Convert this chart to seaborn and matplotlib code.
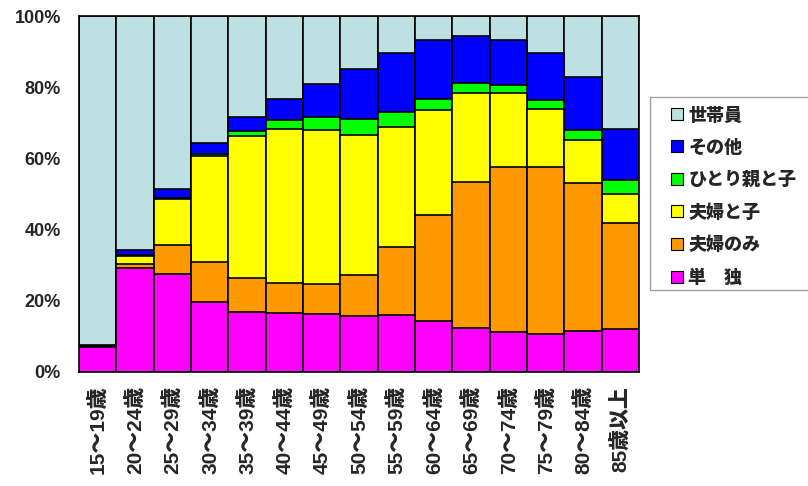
import numpy as np
import pandas as pd
import seaborn as sns
from matplotlib import pyplot as plt
from matplotlib.patches import Patch, Rectangle

ages = ["15～19歳", "20～24歳", "25～29歳", "30～34歳", "35～39歳", "40～44歳",
        "45～49歳", "50～54歳", "55～59歳", "60～64歳", "65～69歳", "70～74歳",
        "75～79歳", "80～84歳", "85歳以上"]

# percentages per household type, bottom to top
tandoku = [7.0, 29.1, 27.5, 19.7, 16.9, 16.5, 16.2, 15.7, 16.0, 14.3, 12.3, 11.1, 10.7, 11.4, 12.2]
fufu_nomi = [0.2, 1.1, 8.2, 11.2, 9.6, 8.4, 8.5, 11.6, 19.0, 29.9, 41.1, 46.4, 46.8, 41.8, 29.6]
fufu_ko = [0.1, 2.5, 12.8, 29.7, 39.8, 43.4, 43.2, 39.3, 33.9, 29.3, 25.1, 20.9, 16.4, 12.0, 8.2]
hitorioya = [0.0, 0.2, 0.3, 0.7, 1.5, 2.5, 3.6, 4.4, 4.0, 3.2, 2.6, 2.3, 2.5, 2.9, 4.0]
sonota = [0.3, 1.3, 2.6, 3.0, 3.9, 6.0, 9.5, 14.0, 16.8, 16.5, 13.4, 12.5, 13.1, 14.8, 14.3]

series = ["単　独", "夫婦のみ", "夫婦と子", "ひとり親と子", "その他"]
colors = ["#FF00FF", "#FF9900", "#FFFF00", "#00FF00", "#0000FF", "#BDE0E3"]

df = pd.DataFrame({"年齢": ages, "単　独": tandoku, "夫婦のみ": fufu_nomi,
                   "夫婦と子": fufu_ko, "ひとり親と子": hitorioya, "その他": sonota})
df["世帯員"] = 100 - df[series].sum(axis=1)
order = series + ["世帯員"]
cum = df[order].cumsum(axis=1)

sns.set_style("white")
plt.rcParams["font.family"] = ["Liberation Sans", "Noto Sans CJK JP", "DejaVu Sans"]
plt.rcParams["font.weight"] = "bold"

fig = plt.figure(figsize=(8.08, 4.86), dpi=100)
ax = fig.add_axes([79 / 808, 1 - 372 / 486, 560 / 808, 356 / 486])

# draw from the top layer down so each lower layer covers the one above
for name, col in reversed(list(zip(order, colors))):
    sns.barplot(x=df["年齢"], y=cum[name], color=col, width=1.0,
                edgecolor="black", linewidth=1.2, saturation=1, ax=ax)

ax.set_xlim(-0.5, len(ages) - 0.5)
ax.set_ylim(0, 100)
ax.set_yticks(range(0, 101, 20))
ax.set_yticklabels([f"{v}%" for v in range(0, 101, 20)], fontsize=13, fontweight="heavy")
ax.set_xticks(range(len(ages)))
ax.set_xticklabels(ages, rotation=90, fontsize=15, fontweight="heavy")
ax.set_xlabel("")
ax.set_ylabel("")
ax.tick_params(axis="y", direction="in", length=5, color="gray", pad=13)
ax.tick_params(axis="x", length=0, pad=10)
for s in ax.spines.values():
    s.set_color("black")
    s.set_linewidth(1.2)

# legend box
fig.patches.append(Rectangle((650 / 808, 1 - 290 / 486), 0.3, 193 / 486,
                             transform=fig.transFigure, facecolor="white",
                             edgecolor="#A0A0A0", linewidth=1))
handles = [Patch(facecolor=c, edgecolor="black", linewidth=0.8, label=n)
           for n, c in zip(order, colors)][::-1]
fig.legend(handles=handles, loc="upper left", bbox_to_anchor=(664 / 808, 1 - 100 / 486),
           frameon=False, prop={"weight": "heavy", "size": 13},
           handlelength=0.65, handleheight=0.65, handletextpad=0.3,
           labelspacing=0.84, borderaxespad=0)

fig.savefig("out.png", dpi=100)
